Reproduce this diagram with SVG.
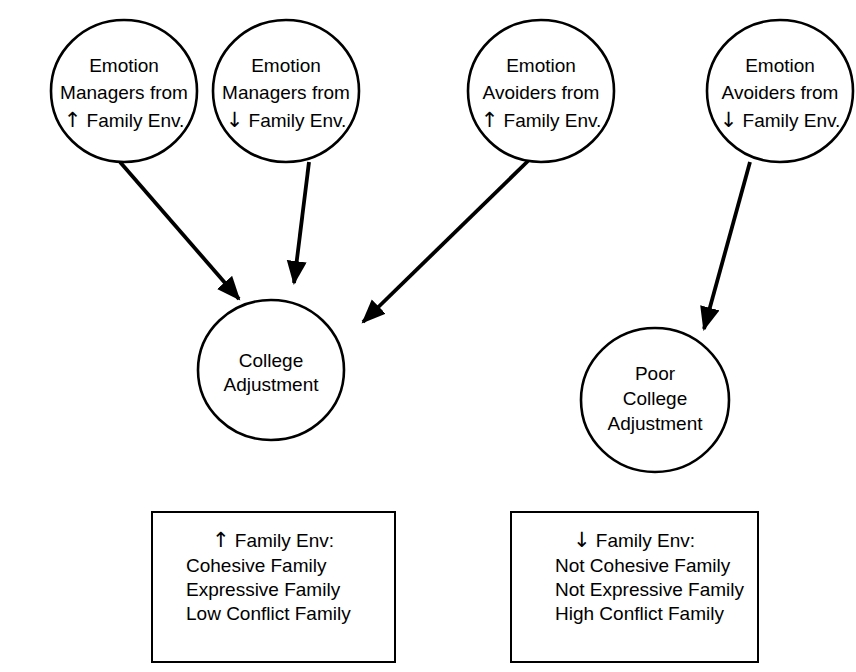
<svg xmlns="http://www.w3.org/2000/svg" width="856" height="672" viewBox="0 0 856 672">
<defs>
<style>
.node{fill:#fff;stroke:#000;stroke-width:2.6}
.box{fill:#fff;stroke:#000;stroke-width:2}
.t{font-family:"Liberation Sans",Arial,sans-serif;font-size:19px;fill:#000}
.c{text-anchor:middle}
.ar{font-family:"DejaVu Sans",sans-serif;font-size:21px}
.edge{stroke:#000;stroke-width:3.8;fill:none}
</style>
<marker id="ah" markerUnits="userSpaceOnUse" markerWidth="26" markerHeight="22" refX="22" refY="10" orient="auto">
<path d="M0,0 L24,10 L0,20 z" fill="#000"/>
</marker>
</defs>
<rect width="856" height="672" fill="#fff"/>
<g id="connectors">
<line class="edge" x1="120" y1="162" x2="239" y2="299" marker-end="url(#ah)"/>
<line class="edge" x1="309" y1="162" x2="294" y2="283" marker-end="url(#ah)"/>
<line class="edge" x1="529" y1="160" x2="363" y2="322" marker-end="url(#ah)"/>
<line class="edge" x1="750" y1="162" x2="704" y2="329" marker-end="url(#ah)"/>
</g>
<g id="n1">
<ellipse class="node" cx="124" cy="91" rx="73" ry="71"/>
<text class="t c" x="124" y="72">Emotion</text>
<text class="t c" x="124" y="99">Managers from</text>
<text class="t c" x="124" y="127"><tspan class="ar">↑</tspan> Family Env.</text>
</g>
<g id="n2">
<ellipse class="node" cx="286" cy="91" rx="73" ry="71"/>
<text class="t c" x="286" y="72">Emotion</text>
<text class="t c" x="286" y="99">Managers from</text>
<text class="t c" x="286" y="127"><tspan class="ar">↓</tspan> Family Env.</text>
</g>
<g id="n3">
<ellipse class="node" cx="541" cy="91" rx="73" ry="71"/>
<text class="t c" x="541" y="72">Emotion</text>
<text class="t c" x="541" y="99">Avoiders from</text>
<text class="t c" x="541" y="127"><tspan class="ar">↑</tspan> Family Env.</text>
</g>
<g id="n4">
<ellipse class="node" cx="780" cy="91" rx="73" ry="71"/>
<text class="t c" x="780" y="72">Emotion</text>
<text class="t c" x="780" y="99">Avoiders from</text>
<text class="t c" x="780" y="127"><tspan class="ar">↓</tspan> Family Env.</text>
</g>
<g id="n5">
<ellipse class="node" cx="271" cy="370" rx="73" ry="70"/>
<text class="t c" x="271" y="367">College</text>
<text class="t c" x="271" y="391">Adjustment</text>
</g>
<g id="n6">
<ellipse class="node" cx="655" cy="400" rx="74" ry="72"/>
<text class="t c" x="655" y="380">Poor</text>
<text class="t c" x="655" y="405">College</text>
<text class="t c" x="655" y="430">Adjustment</text>
</g>
<g id="b1">
<rect class="box" x="152" y="512" width="243" height="150"/>
<text class="t c" x="273" y="547"><tspan class="ar">↑</tspan> Family Env:</text>
<text class="t" x="186" y="572">Cohesive Family</text>
<text class="t" x="186" y="596">Expressive Family</text>
<text class="t" x="186" y="620">Low Conflict Family</text>
</g>
<g id="b2">
<rect class="box" x="511" y="512" width="247" height="150"/>
<text class="t c" x="634" y="547"><tspan class="ar">↓</tspan> Family Env:</text>
<text class="t" x="555" y="572">Not Cohesive Family</text>
<text class="t" x="555" y="596">Not Expressive Family</text>
<text class="t" x="555" y="620">High Conflict Family</text>
</g>
</svg>
